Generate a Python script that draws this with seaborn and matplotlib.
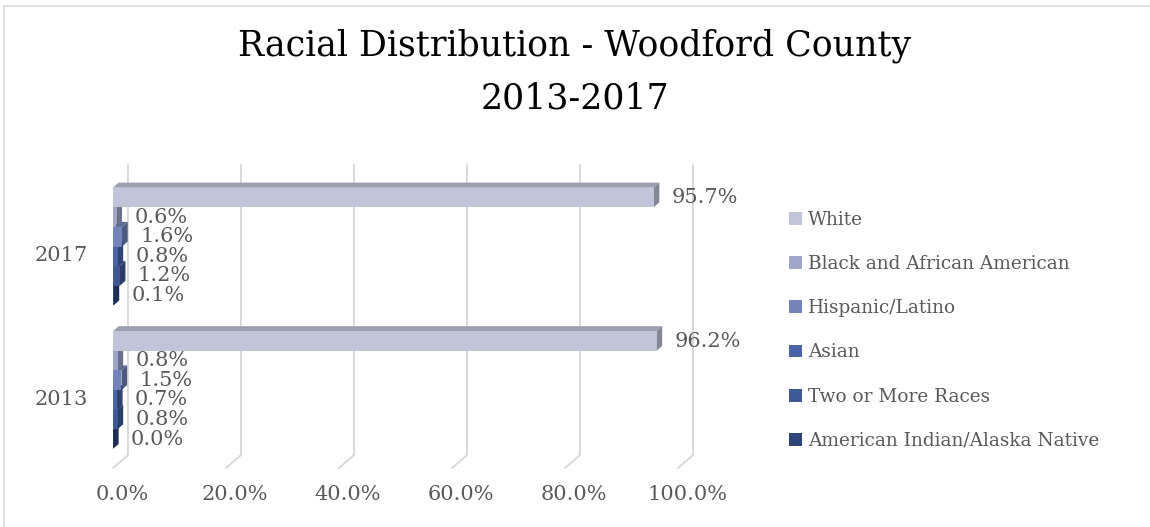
import numpy as np
import pandas as pd
import seaborn as sns
import matplotlib
matplotlib.use('Agg')
import matplotlib.pyplot as plt
import matplotlib.colors as mcolors
import matplotlib.transforms as mtrans
from matplotlib.patches import Polygon
from matplotlib.lines import Line2D

# data
years = ['2017', '2013']
races = ['White', 'Black and African American', 'Hispanic/Latino', 'Asian',
         'Two or More Races', 'American Indian/Alaska Native']
vals_2017 = [95.7, 0.6, 1.6, 0.8, 1.2, 0.1]
vals_2013 = [96.2, 0.8, 1.5, 0.7, 0.8, 0.0]
colors = ['#c0c5da', '#9fa6ca', '#7483b9', '#4a64a8', '#3f5896', '#2e4477']
x_ticks = [0, 20, 40, 60, 80, 100]

df = pd.DataFrame({
    'year': np.repeat(years, len(races)),
    'race': races * 2,
    'pct': vals_2017 + vals_2013,
})

sns.set_theme(style='white')
plt.rcParams['font.family'] = ['DejaVu Serif']
txt = '#595959'
grid = '#d9d9d9'

fig = plt.figure(figsize=(11.5, 5.27), dpi=100)
ax = fig.add_axes([113 / 1150, 59 / 527, 565 / 1150, 303 / 527])

sns.barplot(data=df, x='pct', y='year', hue='race', order=years, hue_order=races,
            palette=colors, orient='h', width=0.82, saturation=1,
            edgecolor='none', linewidth=0, ax=ax, zorder=3)

ax.set_xlim(0, 100)
ax.set_ylim(1.543, -0.568)

# fake 3d depth on every bar (top face + right side face)
dxp, dyp = 1.0, 0.035
for p in list(ax.patches):
    x0, y0, w, h = p.get_x(), p.get_y(), p.get_width(), p.get_height()
    base = np.array(mcolors.to_rgb(p.get_facecolor()))
    top = Polygon([(x0, y0), (x0 + w, y0), (x0 + w + dxp, y0 - dyp), (x0 + dxp, y0 - dyp)],
                  closed=True, facecolor=base * 0.8, edgecolor='none', zorder=2)
    side = Polygon([(x0 + w, y0), (x0 + w + dxp, y0 - dyp), (x0 + w + dxp, y0 + h - dyp), (x0 + w, y0 + h)],
                   closed=True, facecolor=base * 0.68, edgecolor='none', zorder=2.5)
    ax.add_patch(top)
    ax.add_patch(side)

# value labels
for cont in ax.containers:
    ax.bar_label(cont, fmt='%.1f%%', padding=13, fontsize=15, color=txt)

# 3d style gridlines: back wall line plus a short foot to the front
ytop, yback, yfront = -0.568, 1.453, 1.543
for t in x_ticks:
    ax.add_line(Line2D([t + 2.65, t + 2.65, t], [ytop, yback, yfront], color=grid,
                       lw=1.4, zorder=0.5, clip_on=False))

ax.set_xticks(x_ticks)
ax.set_xticklabels([f'{t:.1f}%' for t in x_ticks])
ax.tick_params(axis='x', length=0, labelsize=15, labelcolor=txt, pad=12)
ax.tick_params(axis='y', length=0, labelsize=15, labelcolor=txt, pad=18)
# nudge tick labels like the original (x labels right, year labels down)
for lab in ax.get_xticklabels():
    lab.set_transform(lab.get_transform() + mtrans.ScaledTranslation(0.09, 0, fig.dpi_scale_trans))
for lab in ax.get_yticklabels():
    lab.set_transform(lab.get_transform() + mtrans.ScaledTranslation(0, -0.07, fig.dpi_scale_trans))
ax.set_xlabel('')
ax.set_ylabel('')
for s in ax.spines.values():
    s.set_visible(False)

# legend on the right
h, l = ax.get_legend_handles_labels()
ax.get_legend().remove()
fig.legend(h, l, loc='upper left', bbox_to_anchor=(789 / 1150, 0.600), frameon=False,
           fontsize=13.3, labelcolor=txt, handlelength=0.7, handleheight=0.7,
           handletextpad=0.35, labelspacing=1.42, borderpad=0, borderaxespad=0)

fig.text(0.5, 1 - 72 / 527, 'Racial Distribution - Woodford County\n2013-2017',
         ha='center', va='center', fontsize=25, color='black', linespacing=1.72)

# chart border (top and left edges visible)
fig.add_artist(Line2D([4 / 1150, 4 / 1150, 1], [0, 1 - 6 / 527, 1 - 6 / 527],
                      transform=fig.transFigure, color=grid, lw=1.2))

fig.savefig('out.png', dpi=100)
